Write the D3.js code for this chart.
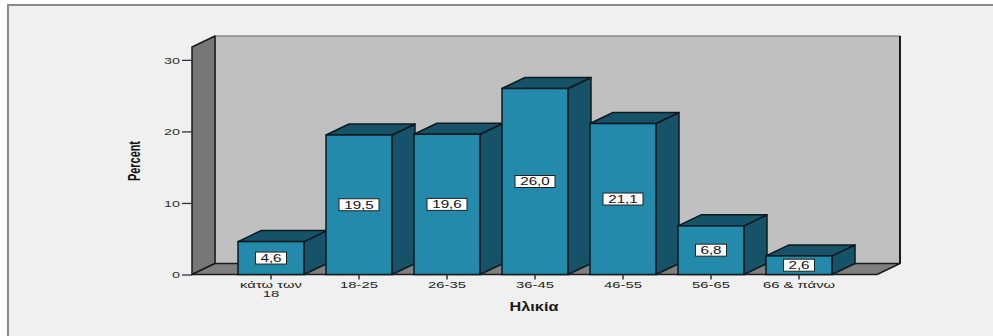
<!DOCTYPE html>
<html>
<head>
<meta charset="utf-8">
<script src="https://cdn.jsdelivr.net/npm/d3@7"></script>
<style>
  body { margin: 0; background: #ffffff; }
  svg { display: block; }
  text { font-family: "Liberation Sans", Arial, sans-serif; }
</style>
</head>
<body>
<div id="chart"></div>
<script>
// Data
const categories = ["κάτω των\n18", "18-25", "26-35", "36-45", "46-55", "56-65", "66 & πάνω"];
const percents = [4.6, 19.5, 19.6, 26.0, 21.1, 6.8, 2.6];
const yTicks = [0, 10, 20, 30];

const W = 993, H = 336;
const depth = { dx: 23, dy: -11 };

// Plot frame (front floor edge / wall edges)
const plot = { left: 192, right: 877, bottom: 274.5, top: 47 };

const svg = d3.select("#chart").append("svg")
    .attr("width", W)
    .attr("height", H);

// outer panel
svg.append("rect")
    .attr("x", 8).attr("y", 5)
    .attr("width", W + 10).attr("height", H + 10)
    .attr("fill", "#f0f0f0")
    .attr("stroke", "#8a8a8a")
    .attr("stroke-width", 2);

// Scales
const y = d3.scaleLinear()
    .domain([0, 31.8])
    .range([plot.bottom, plot.top]);

const x = d3.scaleBand()
    .domain(categories)
    .range([227, 843])
    .paddingInner(0.25)
    .paddingOuter(0.125);

const bx = plot.left + depth.dx, by = plot.bottom + depth.dy, byTop = plot.top + depth.dy;
const bxR = plot.right + depth.dx;

// back wall
svg.append("rect")
    .attr("x", bx).attr("y", byTop)
    .attr("width", bxR - bx).attr("height", by - byTop)
    .attr("fill", "#c0c0c0")
    .attr("stroke", "#666")
    .attr("stroke-width", 1);
svg.append("line")
    .attr("x1", bxR).attr("x2", bxR)
    .attr("y1", byTop).attr("y2", by)
    .attr("stroke", "#1a1a1a").attr("stroke-width", 2);

// left side wall
svg.append("path")
    .attr("d", `M${plot.left},${plot.top}L${bx},${byTop}L${bx},${by}L${plot.left},${plot.bottom}Z`)
    .attr("fill", "#777777")
    .attr("stroke", "#1a1a1a")
    .attr("stroke-width", 1.5)
    .attr("stroke-linejoin", "round");

// floor
svg.append("path")
    .attr("d", `M${plot.left},${plot.bottom}L${bx},${by}L${bxR},${by}L${plot.right},${plot.bottom}Z`)
    .attr("fill", "#7f7f7f")
    .attr("stroke", "#1a1a1a")
    .attr("stroke-width", 1.5)
    .attr("stroke-linejoin", "round");

// bars
const front = "#238aab", dark = "#165368", edge = "#0d1a20";
const bars = svg.append("g").selectAll("g")
    .data(categories.map((c, i) => ({ c, v: percents[i] })))
    .enter().append("g");

bars.each(function(d) {
    const g = d3.select(this);
    const x0 = x(d.c), x1 = x0 + x.bandwidth();
    const yt = y(d.v), yb = y(0);
    // side
    g.append("path")
        .attr("d", `M${x1},${yt}L${x1 + depth.dx},${yt + depth.dy}L${x1 + depth.dx},${yb + depth.dy}L${x1},${yb}Z`)
        .attr("fill", dark).attr("stroke", edge).attr("stroke-width", 1.5).attr("stroke-linejoin", "round");
    // top
    g.append("path")
        .attr("d", `M${x0},${yt}L${x0 + depth.dx},${yt + depth.dy}L${x1 + depth.dx},${yt + depth.dy}L${x1},${yt}Z`)
        .attr("fill", dark).attr("stroke", edge).attr("stroke-width", 1.5).attr("stroke-linejoin", "round");
    // front
    g.append("rect")
        .attr("x", x0).attr("y", yt)
        .attr("width", x.bandwidth()).attr("height", yb - yt)
        .attr("fill", front).attr("stroke", edge).attr("stroke-width", 1.5);

    // value label
    const cx = x0 + x.bandwidth() / 2, cy = (yt + yb) / 2;
    const lbl = d.v.toFixed(1).replace(".", ",");
    const bw = lbl.length * 9 + 4;
    g.append("rect")
        .attr("x", cx - bw / 2).attr("y", cy - 6)
        .attr("width", bw).attr("height", 12)
        .attr("fill", "#ffffff").attr("stroke", "#222").attr("stroke-width", 1);
    g.append("g")
        .attr("transform", `translate(${cx},${cy + 3.8}) scale(1.45,1)`)
        .append("text")
        .attr("text-anchor", "middle")
        .attr("font-size", 10.5)
        .attr("fill", "#111")
        .text(lbl);
});

// Y axis
const yAxis = svg.append("g")
    .attr("transform", `translate(${plot.left},0)`)
    .call(d3.axisLeft(y).tickValues(yTicks).tickSize(10).tickPadding(2).tickFormat(d3.format("d")));
yAxis.select(".domain").remove();
yAxis.selectAll(".tick line").attr("stroke", "#333").attr("stroke-width", 1.3);
yAxis.selectAll(".tick text").remove();
yAxis.selectAll(".tick").append("g")
    .attr("transform", "translate(-12,3.3) scale(1.6,1)")
    .append("text")
    .attr("text-anchor", "end")
    .attr("font-size", 9)
    .attr("fill", "#333")
    .text(d => d);

// X axis ticks and labels
const xAxis = svg.append("g")
    .attr("transform", `translate(0,${plot.bottom})`)
    .call(d3.axisBottom(x).tickSize(5).tickFormat(""));
xAxis.select(".domain").remove();
xAxis.selectAll(".tick line").attr("stroke", "#333").attr("stroke-width", 1.5);
xAxis.selectAll(".tick").each(function(d) {
    const lines = d.split("\n");
    const g = d3.select(this).append("g")
        .attr("transform", "translate(0,13.5) scale(1.65,1)");
    lines.forEach((t, i) => {
        g.append("text")
            .attr("text-anchor", "middle")
            .attr("y", i * 9.5)
            .attr("font-size", 9)
            .attr("fill", "#222")
            .text(t);
    });
});

// axis titles
svg.append("g")
    .attr("transform", "translate(534,311) scale(1.3,1)")
    .append("text")
    .attr("text-anchor", "middle")
    .attr("font-size", 12.5)
    .attr("font-weight", "bold")
    .attr("fill", "#1a1a1a")
    .text("Ηλικία");

svg.append("g")
    .attr("transform", "translate(140,161) rotate(-90) scale(0.68,1)")
    .append("text")
    .attr("text-anchor", "middle")
    .attr("font-size", 16)
    .attr("font-weight", "bold")
    .attr("fill", "#111")
    .text("Percent");
</script>
</body>
</html>
